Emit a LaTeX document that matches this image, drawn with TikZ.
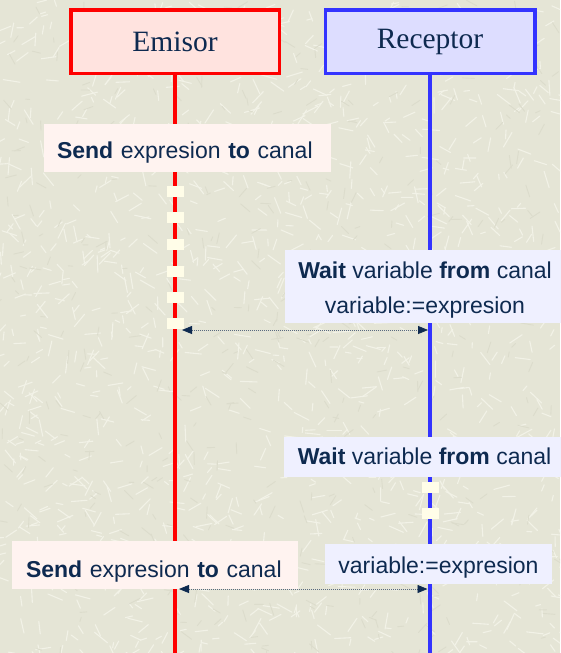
\documentclass[tikz,border=0pt]{standalone}
\usepackage{fontspec}
\setmainfont{Liberation Serif}
\newfontfamily\labelfont{Liberation Sans}
\usetikzlibrary{arrows.meta}
\definecolor{bgcol}{RGB}{229,229,214}
\definecolor{strawcol}{RGB}{242,242,231}
\definecolor{strawdark}{RGB}{220,220,204}
\definecolor{lred}{RGB}{255,0,0}
\definecolor{lblue}{RGB}{51,51,255}
\definecolor{pinkfill}{RGB}{255,227,223}
\definecolor{bluefill}{RGB}{221,221,255}
\definecolor{sendfill}{RGB}{255,243,240}
\definecolor{waitfill}{RGB}{239,240,255}
\definecolor{inkcol}{RGB}{14,42,80}
\definecolor{gapcol}{RGB}{255,253,232}
\definecolor{msgcol}{RGB}{90,106,128}
\tikzset{
  lifebox/.style={rectangle, line width=3.5pt, minimum width=208.5pt, minimum height=63.5pt,
    inner sep=0pt, text=inkcol, font=\fontsize{29.5}{35}\selectfont},
  lifeline/.style={line width=4pt},
  actionbox/.style={rectangle, inner sep=0pt, text=inkcol, align=center,
    font=\labelfont\fontsize{23}{35}\selectfont, text depth=0pt},
  sendbox/.style={actionbox, fill=sendfill, align=left, minimum height=48pt},
  gapbox/.style={fill=gapcol},
  msg/.style={draw=msgcol, line width=0.8pt, dash pattern=on 1pt off 1pt,
    {Triangle[length=10pt,width=8pt,fill=inkcol,color=inkcol]}-{Triangle[length=10pt,width=8pt,fill=inkcol,color=inkcol]}},
  straw/.style={draw=strawcol, line width=1.1pt, line cap=round},
  strawd/.style={draw=strawdark, line width=0.9pt, line cap=round}
}
\begin{document}
\begin{tikzpicture}[x=1pt,y=-1pt]
\useasboundingbox (0,0) rectangle (560,653);
\fill[bgcol] (0,0) rectangle (560,653);
\begin{scope}
\clip (0,0) rectangle (560,653);
\pgfmathsetseed{42}
\foreach \i in {1,...,1300}{
  \pgfmathsetmacro\xx{rnd*560}
  \pgfmathsetmacro\yy{rnd*653}
  \pgfmathsetmacro\aa{rnd*180}
  \pgfmathsetmacro\ll{5+rnd*12}
  \draw[straw] (\xx,\yy) -- ++(\aa:\ll);
}
\foreach \i in {1,...,450}{
  \pgfmathsetmacro\xx{rnd*560}
  \pgfmathsetmacro\yy{rnd*653}
  \pgfmathsetmacro\aa{rnd*180}
  \pgfmathsetmacro\ll{4+rnd*9}
  \draw[strawd] (\xx,\yy) -- ++(\aa:\ll);
}
\end{scope}

% lifeline heads
\node[lifebox, draw=lred, fill=pinkfill] (emisor) at (175,41.5) {Emisor};
\node[lifebox, draw=lblue, fill=bluefill, minimum width=209.5pt] (receptor) at (430,41.5) {Receptor};
\coordinate (emisorEnd) at (175,653);
\coordinate (receptorEnd) at (430,653);
\draw[lifeline, lred] (emisor.south) -- (emisorEnd);
\draw[lifeline, lblue] (receptor.south) -- (receptorEnd);

% action boxes
\node[sendbox, inner xsep=13pt, text width=261pt, text height=20.6pt] (send1) at (187.5,148)
  {\textbf{Send} expresion \textbf{to} canal};
\node[actionbox, fill=waitfill, minimum width=280pt, minimum height=73pt, text height=53pt] (wait1) at (425,286.5)
  {\textbf{Wait} variable \textbf{from} canal\\variable:=expresion};
\node[actionbox, fill=waitfill, minimum width=281pt, minimum height=40pt, text height=14pt] (wait2) at (424.5,457)
  {\textbf{Wait} variable \textbf{from} canal};
\node[actionbox, fill=waitfill, minimum width=227pt, minimum height=40pt, text height=18pt] (assign2) at (438.5,564)
  {variable:=expresion};
\node[sendbox, inner xsep=14pt, text width=258pt, text height=24pt] (send2) at (155,565)
  {\textbf{Send} expresion \textbf{to} canal};

% waiting gaps on the lifelines
\foreach \yc in {191,217,244,271,297,323}{
  \fill[gapbox] (167,\yc-5.5) rectangle (184,\yc+5.5);
}
\foreach \yc in {487.5,513.5}{
  \fill[gapbox] (421.5,\yc-5.5) rectangle (438.5,\yc+5.5);
}

% messages
\coordinate (m1e) at (182,330);
\coordinate (m1r) at (428,330);
\coordinate (m2e) at (179,589);
\coordinate (m2r) at (427.5,589);
\draw[msg] (m1e) -- (m1r);
\draw[msg] (m2e) -- (m2r);
\end{tikzpicture}
\end{document}
